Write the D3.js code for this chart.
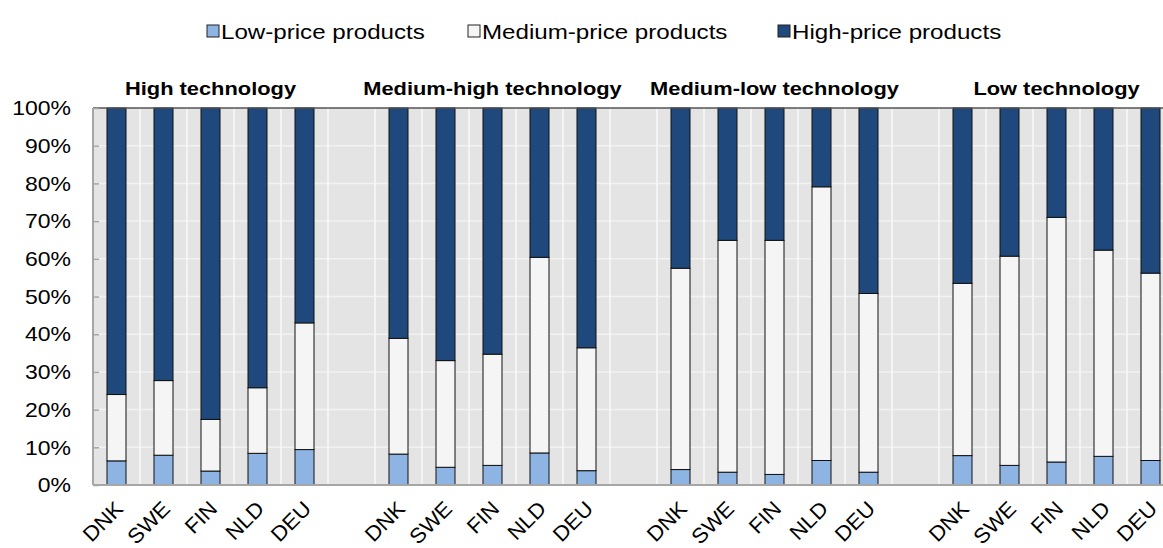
<!DOCTYPE html>
<html>
<head>
<meta charset="utf-8">
<script src="https://cdn.jsdelivr.net/npm/d3@7"></script>
<style>
  body { margin: 0; background: #fff; }
  text { font-family: "Liberation Sans", Arial, sans-serif; fill: #000; }
</style>
</head>
<body>
<svg id="chart" width="1163" height="548"></svg>
<script>
// data (shares in %)
var groups = ["High technology", "Medium-high technology", "Medium-low technology", "Low technology"];
var countries = ["DNK", "SWE", "FIN", "NLD", "DEU"];
var series = ["Low-price products", "Medium-price products", "High-price products"];
var colors = ["#8db4e2", "#f5f5f5", "#1f497d"];
var yTicks = [0, 10, 20, 30, 40, 50, 60, 70, 80, 90, 100];

// low-price share, per group, per country
var lowPrice = [
  [6.4, 7.9, 3.7, 8.4, 9.4],
  [8.2, 4.7, 5.2, 8.5, 3.8],
  [4.1, 3.4, 2.8, 6.5, 3.4],
  [7.8, 5.2, 6.1, 7.6, 6.5]
];
// low + medium (top of the medium segment)
var lowPlusMedium = [
  [24.0, 27.7, 17.4, 25.8, 43.0],
  [38.9, 33.0, 34.7, 60.4, 36.4],
  [57.5, 64.9, 64.9, 79.1, 50.8],
  [53.5, 60.7, 71.0, 62.3, 56.2]
];

var svg = d3.select("#chart");
var sx = 1.15; // text in the picture is a little wide

var plotLeft = 93, plotTop = 108, plotBottom = 485, step = 47;

// slots: 5 countries per group, one empty slot between groups
var slots = [];
groups.forEach(function (g, gi) {
  countries.forEach(function (c) { slots.push(gi + "-" + c); });
  if (gi < groups.length - 1) slots.push("gap" + gi);
});

var x = d3.scaleBand().domain(slots).range([plotLeft, plotLeft + slots.length * step]).padding(0);
var y = d3.scaleLinear().domain([0, 100]).range([plotBottom, plotTop]);
var barW = 19;
var plotRight = x.range()[1];

function stretchText(sel, px, py, rot, s) {
  sel.attr("transform", "translate(" + px + "," + py + ")" + (rot ? " rotate(" + rot + ")" : "") + " scale(" + (s || sx) + ",1)");
}

// background
svg.append("rect")
  .attr("x", plotLeft).attr("y", plotTop)
  .attr("width", plotRight - plotLeft).attr("height", plotBottom - plotTop)
  .attr("fill", "#e4e4e4");

// gridlines
svg.append("g").selectAll("line").data(yTicks.slice(1, -1)).join("line")
  .attr("x1", plotLeft).attr("x2", plotRight)
  .attr("y1", function (d) { return y(d); }).attr("y2", function (d) { return y(d); })
  .attr("stroke", "#f2f2f2").attr("stroke-width", 1.5);
svg.append("g").selectAll("line").data(slots.slice(1)).join("line")
  .attr("x1", function (d) { return x(d); }).attr("x2", function (d) { return x(d); })
  .attr("y1", plotTop).attr("y2", plotBottom)
  .attr("stroke", "#fafafa").attr("stroke-width", 1.5);

// stacked bars
var rows = [];
groups.forEach(function (g, gi) {
  countries.forEach(function (c, ci) {
    var lo = lowPrice[gi][ci], mid = lowPlusMedium[gi][ci];
    rows.push({ key: gi + "-" + c, label: c, segs: [[0, lo], [lo, mid], [mid, 100]] });
  });
});

var barG = svg.append("g");
rows.forEach(function (r) {
  barG.append("g").selectAll("rect").data(r.segs).join("rect")
    .attr("x", x(r.key) + (x.bandwidth() - barW) / 2)
    .attr("width", barW)
    .attr("y", function (d) { return y(d[1]); })
    .attr("height", function (d) { return y(d[0]) - y(d[1]); })
    .attr("fill", function (d, i) { return colors[i]; })
    .attr("stroke", "#111").attr("stroke-width", 1);
});

// frame lines
svg.append("line").attr("x1", plotLeft).attr("x2", plotRight).attr("y1", plotTop).attr("y2", plotTop)
  .attr("stroke", "#555").attr("stroke-width", 1.5);
svg.append("line").attr("x1", plotLeft).attr("x2", plotRight).attr("y1", plotBottom).attr("y2", plotBottom)
  .attr("stroke", "#a6a6a6").attr("stroke-width", 2);
svg.append("line").attr("x1", plotLeft).attr("x2", plotLeft).attr("y1", plotTop).attr("y2", plotBottom)
  .attr("stroke", "#a6a6a6").attr("stroke-width", 2);

// y axis ticks (pointing inward)
var yAxis = svg.append("g").attr("transform", "translate(" + plotLeft + ",0)")
  .call(d3.axisRight(y).tickValues(yTicks).tickSize(6).tickFormat(""));
yAxis.select(".domain").remove();
yAxis.selectAll("line").attr("stroke", "#a6a6a6").attr("stroke-width", 1.5);

svg.append("g").selectAll("text").data(yTicks).join("text")
  .attr("text-anchor", "end").attr("dy", "0.36em")
  .style("font-size", "20px")
  .text(function (d) { return d + "%"; })
  .each(function (d) { stretchText(d3.select(this), 71, y(d)); });

// x labels
svg.append("g").selectAll("text").data(rows).join("text")
  .attr("text-anchor", "end")
  .style("font-size", "21px")
  .text(function (d) { return d.label; })
  .each(function (d) { stretchText(d3.select(this), x(d.key) + x.bandwidth() / 2 + 8, 510, -45, 1.05); });

// group titles
svg.append("g").selectAll("text").data(groups).join("text")
  .attr("text-anchor", "middle")
  .style("font-size", "19px").style("font-weight", "bold")
  .text(function (d) { return d; })
  .each(function (d, gi) {
    var k = gi + "-" + countries[2];
    stretchText(d3.select(this), x(k) + x.bandwidth() / 2, 95);
  });

// legend
var legendX = [207, 468, 778];
var leg = svg.append("g").selectAll("g").data(series).join("g")
  .attr("transform", function (d, i) { return "translate(" + legendX[i] + ",25)"; });
leg.append("rect").attr("width", 12).attr("height", 12)
  .attr("fill", function (d, i) { return colors[i]; })
  .attr("stroke", "#222").attr("stroke-width", 1);
leg.append("text")
  .style("font-size", "21px")
  .text(function (d) { return d; })
  .each(function () { stretchText(d3.select(this), 14, 13.5); });
</script>
</body>
</html>
